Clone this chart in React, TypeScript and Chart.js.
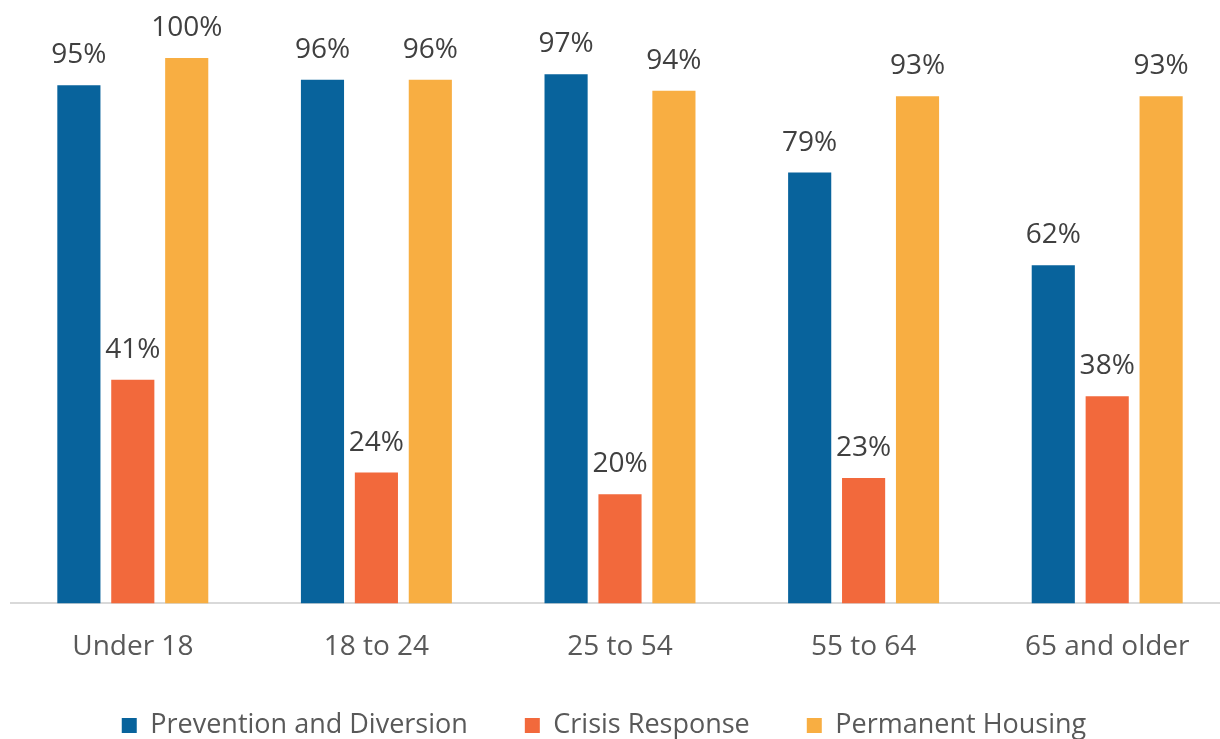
import React, { useEffect, useRef } from "react";
import { Chart, registerables } from "chart.js";

Chart.register(...registerables);

const categories = ["Under 18", "18 to 24", "25 to 54", "55 to 64", "65 and older"];
const prevention = [95, 96, 97, 79, 62];
const crisis = [41, 24, 20, 23, 38];
const permanent = [100, 96, 94, 93, 93];
const seriesNames = ["Prevention and Diversion", "Crisis Response", "Permanent Housing"];
const seriesColors = ["#08639C", "#F2693C", "#F8AE42"];

const FONT = "'Open Sans', 'Noto Sans', sans-serif";

const valueLabels = {
  id: "valueLabels",
  afterDatasetsDraw(chart: any) {
    const ctx = chart.ctx;
    ctx.save();
    ctx.font = `28px ${FONT}`;
    ctx.fillStyle = "#404040";
    ctx.textAlign = "center";
    ctx.textBaseline = "alphabetic";
    chart.data.datasets.forEach((ds: any, i: number) => {
      const meta = chart.getDatasetMeta(i);
      meta.data.forEach((bar: any, j: number) => {
        ctx.fillText(`${ds.data[j]}%`, bar.x, bar.y - 22);
      });
    });
    ctx.restore();
  },
};

const legendShift = {
  id: "legendShift",
  afterLayout(chart: any) {
    const lg = chart.legend;
    if (lg) {
      lg.left -= 16;
      lg.right -= 16;
      lg.top -= 36;
      lg.bottom -= 36;
    }
  },
};

export default function App() {
  const ref = useRef<HTMLCanvasElement | null>(null);
  useEffect(() => {
    if (!ref.current) return;
    const chart = new Chart(ref.current, {
      type: "bar",
      data: {
        labels: categories,
        datasets: [prevention, crisis, permanent].map((d, i) => ({
          label: seriesNames[i],
          data: d,
          backgroundColor: seriesColors[i],
          categoryPercentage: 0.664,
          barPercentage: 0.8,
        })),
      },
      options: {
        animation: false,
        responsive: true,
        maintainAspectRatio: false,
        layout: { padding: { top: 58, left: 11, right: 0, bottom: -46 } },
        scales: {
          x: {
            grid: { display: false, drawTicks: false },
            border: { display: true, color: "#D9D9D9", width: 2 },
            ticks: { color: "#595959", font: { family: FONT, size: 28 }, padding: 27 },
          },
          y: {
            display: false,
            min: 0,
            max: 100,
          },
        },
        plugins: {
          tooltip: { enabled: false },
          legend: {
            position: "bottom",
            labels: {
              boxWidth: 15,
              boxHeight: 15,
              padding: 57,
              color: "#595959",
              font: { family: FONT, size: 27 },
            },
          },
        },
      },
      plugins: [valueLabels, legendShift],
    });
    return () => chart.destroy();
  }, []);
  return (
    <div style={{ position: "absolute", left: 0, top: 0, width: 1220, height: 739, overflow: "hidden", background: "#fff" }}>
      <div style={{ position: "absolute", left: 0, top: 0, width: 1229, height: 739 }}>
        <canvas ref={ref} />
      </div>
    </div>
  );
}
